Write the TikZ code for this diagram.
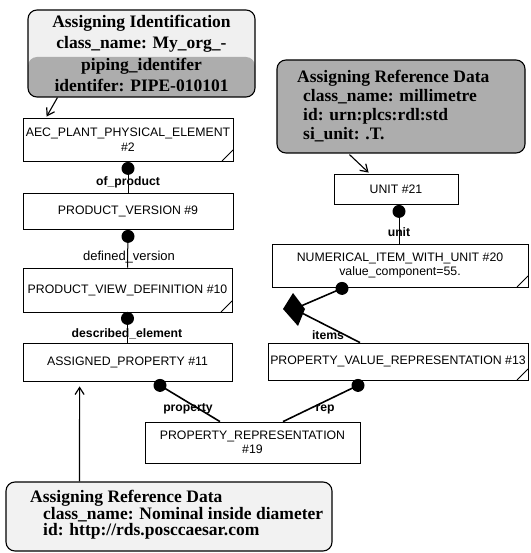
\documentclass[tikz,border=0pt]{standalone}
\usepackage{fontspec}
\setmainfont{Liberation Serif}
\setsansfont{Liberation Sans}
\usetikzlibrary{arrows.meta,calc}

\tikzset{
  entity/.style={draw, line width=0.8pt, fill=white, inner sep=1pt,
    font=\sffamily\fontsize{12.3}{14.5}\selectfont, align=center},
  solidcorner/.style={entity, path picture={
    \fill ([xshift=-11pt]path picture bounding box.south east)
      -- (path picture bounding box.south east)
      -- ([yshift=11pt]path picture bounding box.south east) -- cycle;}},
  opencorner/.style={entity, path picture={
    \draw[line width=0.8pt] ([xshift=-11pt]path picture bounding box.south east)
      -- ([yshift=11pt]path picture bounding box.south east);}},
  role/.style={font=\sffamily\bfseries\fontsize{12.2}{14}\selectfont, inner sep=0pt},
  rolelight/.style={font=\sffamily\fontsize{13}{15}\selectfont, inner sep=0pt},
  link/.style={line width=1pt},
  slant/.style={line width=1.6pt},
  note/.style={draw, line width=1.1pt, rounded corners=9pt},
  notetext/.style={font=\rmfamily\bfseries\fontsize{17.5}{19}\selectfont,
    inner sep=0pt, align=left},
  pointer/.style={line width=1.1pt,
    -{Straight Barb[length=7pt,width=9pt,line width=1.2pt]}},
}

\begin{document}
\begin{tikzpicture}[x=1pt,y=-1pt]
\useasboundingbox (0,0) rectangle (530,553);

% annotation boxes
\node[note, fill=black!6, minimum width=227pt, minimum height=87pt, inner sep=0pt,
  align=center, font=\rmfamily\bfseries\fontsize{17.5}{21.5}\selectfont,
  path picture={\fill[black!32] ([yshift=40pt]path picture bounding box.south west)
    rectangle (path picture bounding box.south east);}]
  (ident) at (141.5,53.5)
  {Assigning Identification\\class\_name: My\_org\_-\\piping\_identifer\\identifer: PIPE-010101};

\node[note, fill=black!32, minimum width=248pt, minimum height=93pt] (refunit) at (401,106.5) {};
\node[notetext, anchor=west] (refunittext) at (297,106)
  {Assigning Reference Data\\\hspace*{6pt}class\_name: millimetre\\\hspace*{6pt}id: urn:plcs:rdl:std\\\hspace*{6pt}si\_unit: .T.};

\node[note, fill=black!5, minimum width=326pt, minimum height=69pt] (refdiam) at (169,516.5) {};
\node[notetext, font=\rmfamily\bfseries\fontsize{17.5}{16.5}\selectfont, anchor=west]
  (refdiamtext) at (30,515)
  {Assigning Reference Data\\\hspace*{13pt}class\_name: Nominal inside diameter\\\hspace*{13pt}id: http://rds.posccaesar.com};

% entity instances
\node[opencorner, minimum width=210pt, minimum height=43pt] (aec) at (128,139.5)
  {AEC\_PLANT\_PHYSICAL\_ELEMENT\\\#2};
\node[solidcorner, minimum width=210pt, minimum height=36pt] (pv) at (128,211)
  {PRODUCT\_VERSION \#9};
\node[opencorner, minimum width=209pt, minimum height=44pt] (pvd) at (127.5,290)
  {PRODUCT\_VIEW\_DEFINITION \#10};
\node[solidcorner, minimum width=209pt, minimum height=38pt] (ap) at (127.5,362)
  {ASSIGNED\_PROPERTY \#11};
\node[solidcorner, minimum width=124pt, minimum height=30pt] (unit) at (396,189)
  {UNIT \#21};
\node[opencorner, minimum width=256pt, minimum height=43pt] (niwu) at (400,265.5)
  {NUMERICAL\_ITEM\_WITH\_UNIT \#20\\value\_component=55.};
\node[opencorner, minimum width=260pt, minimum height=37pt] (pvr) at (398,361.5)
  {PROPERTY\_VALUE\_REPRESENTATION \#13};
\node[solidcorner, minimum width=215pt, minimum height=41pt] (pr) at (252.5,442.5)
  {PROPERTY\_REPRESENTATION\\\#19};

% role names
\node[role] (lofp) at (128,182) {of\_product};
\node[rolelight] (ldv) at (129,257) {defined\_version};
\node[role] (lde) at (127,334) {described\_element};
\node[role] (lunit) at (399,232) {unit};
\node[role] (litems) at (328,335) {items};
\node[role] (lprop) at (188,409) {property};
\node[role] (lrep) at (325,409) {rep};

% attribute links
\draw[link] (aec.south) -- (pv.north);
\fill ($(aec.south)+(0,7)$) circle[radius=6.5pt];
\draw[link] (pv.south) -- (pvd.north);
\fill ($(pv.south)+(0,7)$) circle[radius=6.5pt];
\draw[link] (pvd.south) -- (ap.north);
\fill ($(pvd.south)+(0,6)$) circle[radius=6.5pt];
\draw[link] ($(unit.south)+(3,0)$) -- ($(niwu.north)+(-1,0)$);
\fill ($(unit.south)+(3,7)$) circle[radius=6.5pt];

\coordinate (agg) at (294,309);
\draw[slant] ($(niwu.south)+(-58,1)$) -- (agg) -- ($(pvr.north)+(-38,0)$);
\fill ($(niwu.south)+(-58,1)$) circle[radius=6.5pt];
\fill (agg) ++(-11,0) -- ++(10,-16) -- ++(12,16) -- ++(-7,17) -- cycle;

\draw[slant] ($(ap.south)+(32.5,4)$) -- ($(pr.north)+(-32.5,0)$);
\fill ($(ap.south)+(32.5,4)$) circle[radius=6.5pt];
\draw[slant] ($(pvr.south)+(-40,5)$) -- ($(pr.north)+(30.5,0)$);
\fill ($(pvr.south)+(-40,5)$) circle[radius=6.5pt];

% annotation pointers
\draw[pointer] ($(ident.south west)+(30,0)$) -- ($(aec.north west)+(24,-1)$);
\draw[pointer] ($(refunit.south west)+(73,1)$) -- ($(unit.north west)+(35,-1)$);
\draw[pointer] ($(refdiam.north west)+(74,0)$) -- ($(ap.south west)+(57,5)$);
\end{tikzpicture}
\end{document}
